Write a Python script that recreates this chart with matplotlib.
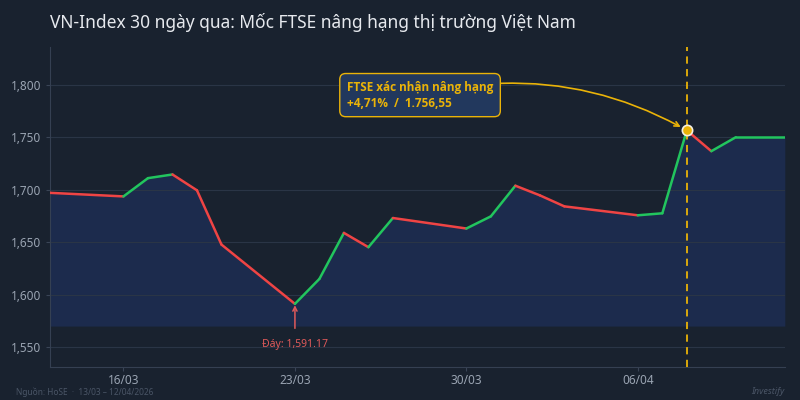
import matplotlib.pyplot as plt
import matplotlib.dates as mdates
import numpy as np
import pandas as pd

plt.rcParams['font.family'] = ['Noto Sans', 'DejaVu Sans']

dates = ["2026-03-13", "2026-03-16", "2026-03-17", "2026-03-18", "2026-03-19",
         "2026-03-20", "2026-03-23", "2026-03-24", "2026-03-25", "2026-03-26",
         "2026-03-27", "2026-03-30", "2026-03-31", "2026-04-01", "2026-04-02",
         "2026-04-03", "2026-04-06", "2026-04-07", "2026-04-08", "2026-04-09",
         "2026-04-10", "2026-04-12"]
values = [1697.0, 1693.6, 1711.0, 1714.5, 1699.4,
          1647.7, 1591.17, 1615.0, 1658.8, 1645.2,
          1673.0, 1663.0, 1674.6, 1703.8, 1694.6,
          1684.1, 1675.6, 1677.5, 1756.55, 1736.7,
          1750.0, 1750.0]
tick_dates = ["2026-03-16", "2026-03-23", "2026-03-30", "2026-04-06"]
event_date = "2026-04-08"
event_text = "FTSE xác nhận nâng hạng\n+4,71%  /  1.756,55"
low_text = "Đáy: 1,591.17"

bg = '#19222f'
fill_c = '#1c2b4d'
up_c = '#22c55e'
down_c = '#ef4444'
gold = '#eab308'
grid_c = '#2a3546'
txt_c = '#9aa4b2'

x = pd.to_datetime(dates)
xn = mdates.date2num(x)
y = np.array(values)

fig = plt.figure(figsize=(8, 4), dpi=100)
fig.patch.set_facecolor(bg)
ax = fig.add_axes([0.0625, 0.0825, 0.9185, 0.8])
ax.set_facecolor(bg)

ax.fill_between(xn, y, 1570, color=fill_c, zorder=1, linewidth=0)

for i in range(len(xn) - 1):
    c = up_c if y[i + 1] >= y[i] else down_c
    ax.plot(xn[i:i + 2], y[i:i + 2], color=c, lw=1.8, zorder=3, solid_capstyle='round')

ax.set_xlim(xn[0], xn[-1])
ax.set_ylim(1531, 1836)
ax.set_yticks([1550, 1600, 1650, 1700, 1750, 1800])
ax.yaxis.set_major_formatter(plt.FuncFormatter(lambda v, p: f"{v:,.0f}"))
ax.set_xticks(mdates.date2num(pd.to_datetime(tick_dates)))
ax.set_xticklabels([d.strftime("%d/%m") for d in pd.to_datetime(tick_dates)])
ax.grid(axis='y', color=grid_c, lw=0.8, zorder=0)
ax.tick_params(colors=txt_c, labelsize=8.5, length=3, color='#3a4556')
ax.tick_params(axis='x', pad=2)
for s in ['top', 'right']:
    ax.spines[s].set_visible(False)
for s in ['left', 'bottom']:
    ax.spines[s].set_color('#354052')

# event line + marker
ex = mdates.date2num(pd.Timestamp(event_date))
ey = values[dates.index(event_date)]
ax.axvline(ex, color=gold, lw=1.3, ls=(0, (4, 3)), zorder=4)
ax.scatter([ex], [ey], s=55, color=gold, edgecolor='#f5f0e0', linewidth=1.2, zorder=6)
ax.annotate(event_text, xy=(ex, ey), xytext=(0.404, 0.895), textcoords='axes fraction',
            ha='left', va='top', color=gold, fontsize=8.5, fontweight='bold',
            family=['Open Sans', 'DejaVu Sans'], zorder=7, linespacing=1.3,
            bbox=dict(boxstyle='round,pad=0.6,rounding_size=0.5', fc='#22385d', ec=gold, lw=1),
            arrowprops=dict(arrowstyle='->', color=gold, lw=1.2,
                            connectionstyle='arc3,rad=-0.2', shrinkA=0, shrinkB=5))

# low marker
lx = xn[int(np.argmin(y))]
ly = y.min()
ax.annotate(low_text, xy=(lx, ly), xytext=(lx, 1552), textcoords='data',
            ha='center', va='center', color='#e05a5a', fontsize=7.5, zorder=7,
            arrowprops=dict(arrowstyle='->', color='#e05a5a', lw=1.1, shrinkA=6, shrinkB=1))

fig.text(0.0625, 0.945, "VN-Index 30 ngày qua: Mốc FTSE nâng hạng thị trường Việt Nam",
         color='#e6e9ee', fontsize=12.5, ha='left', va='center')
fig.text(0.02, 0.02, "Nguồn: HoSE  ·  13/03 – 12/04/2026", color='#4a5566', fontsize=6, ha='left', va='center')
fig.text(0.98, 0.02, "Investify", color='#4a5566', fontsize=6.5, style='italic', ha='right', va='center')

plt.savefig("out.png", dpi=100, facecolor=bg)
